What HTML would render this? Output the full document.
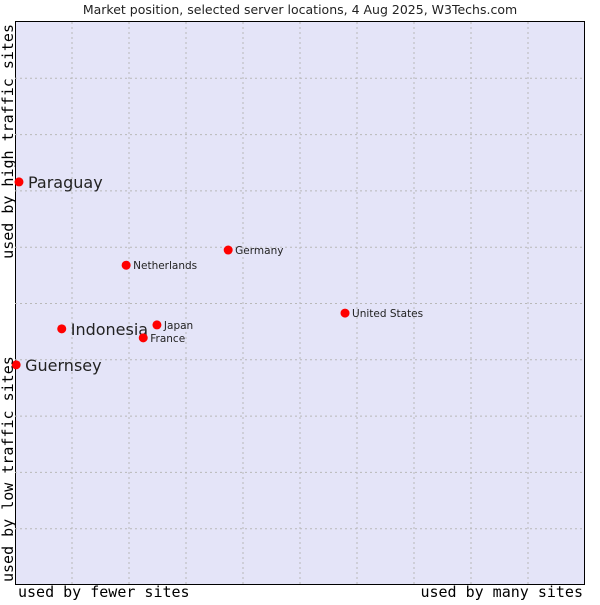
<!DOCTYPE html>
<html><head><meta charset="utf-8"><style>
body{margin:0;background:#fff;width:600px;height:600px;overflow:hidden}
svg text{font-family:"DejaVu Sans","Liberation Sans",sans-serif;fill:#222}
.mono{font-family:"DejaVu Sans Mono","Liberation Mono",monospace;fill:#000}
</style></head><body>
<svg id="chart" width="600" height="600" xmlns="http://www.w3.org/2000/svg">
<text x="300" y="14" text-anchor="middle" font-size="12.5">Market position, selected server locations, 4 Aug 2025, W3Techs.com</text>
<rect x="15.5" y="21.5" width="569" height="563" fill="#e4e4f8" stroke="#000" stroke-width="1"/>
<g id="grid"></g>
<g id="points"></g>
<text class="mono" x="18" y="597" font-size="15">used by fewer sites</text>
<text class="mono" x="583" y="597" font-size="15" text-anchor="end">used by many sites</text>
<text class="mono" transform="translate(13,24) rotate(-90)" font-size="15" text-anchor="end">used by high traffic sites</text>
<text class="mono" transform="translate(13,582) rotate(-90)" font-size="15">used by low traffic sites</text>
</svg>
<script>
const names=["Paraguay","Guernsey","Indonesia","Netherlands","Germany","Japan","France","United States"];
const xVals=[0.7,0.2,8.2,19.5,37.4,24.9,22.5,57.9];
const yVals=[71.6,39.1,45.5,56.8,59.5,46.2,43.9,48.3];
const big=[true,true,true,false,false,false,false,false];
const X0=15,X1=585,Y0=585,Y1=22;
const sx=v=>X0+v/100*(X1-X0);
const sy=v=>Y0-v/100*(Y0-Y1);
const NS="http://www.w3.org/2000/svg";
const grid=document.getElementById('grid');
for(let i=1;i<10;i++){
  const x=X0+i*(X1-X0)/10,y=Y1+i*(Y0-Y1)/10;
  const v=document.createElementNS(NS,'line');
  
  
  v.setAttribute('x1',x);v.setAttribute('x2',x);v.setAttribute('y1',Y1);v.setAttribute('y2',Y0);
  v.setAttribute('stroke','#b8b8b8');v.setAttribute('stroke-dasharray','2,3');
  grid.appendChild(v);
  const h=document.createElementNS(NS,'line');
  
  
  h.setAttribute('x1',X0);h.setAttribute('x2',X1);h.setAttribute('y1',y);h.setAttribute('y2',y);
  h.setAttribute('stroke','#b8b8b8');h.setAttribute('stroke-dasharray','2,3');
  grid.appendChild(h);
}
const pts=document.getElementById('points');
names.forEach((n,i)=>{
  const cx=sx(xVals[i]),cy=sy(yVals[i]);
  const c=document.createElementNS(NS,'circle');
  
  
  c.setAttribute('cx',cx);c.setAttribute('cy',cy);c.setAttribute('r',4.5);c.setAttribute('fill','#f00');
  pts.appendChild(c);
  const t=document.createElementNS(NS,'text');
  
  
  t.setAttribute('x',cx+(big[i]?9:7));t.setAttribute('y',cy+(big[i]?6:4));
  t.setAttribute('font-size',big[i]?16:10.5);
  t.textContent=n;
  pts.appendChild(t);
});
</script>
</body></html>
